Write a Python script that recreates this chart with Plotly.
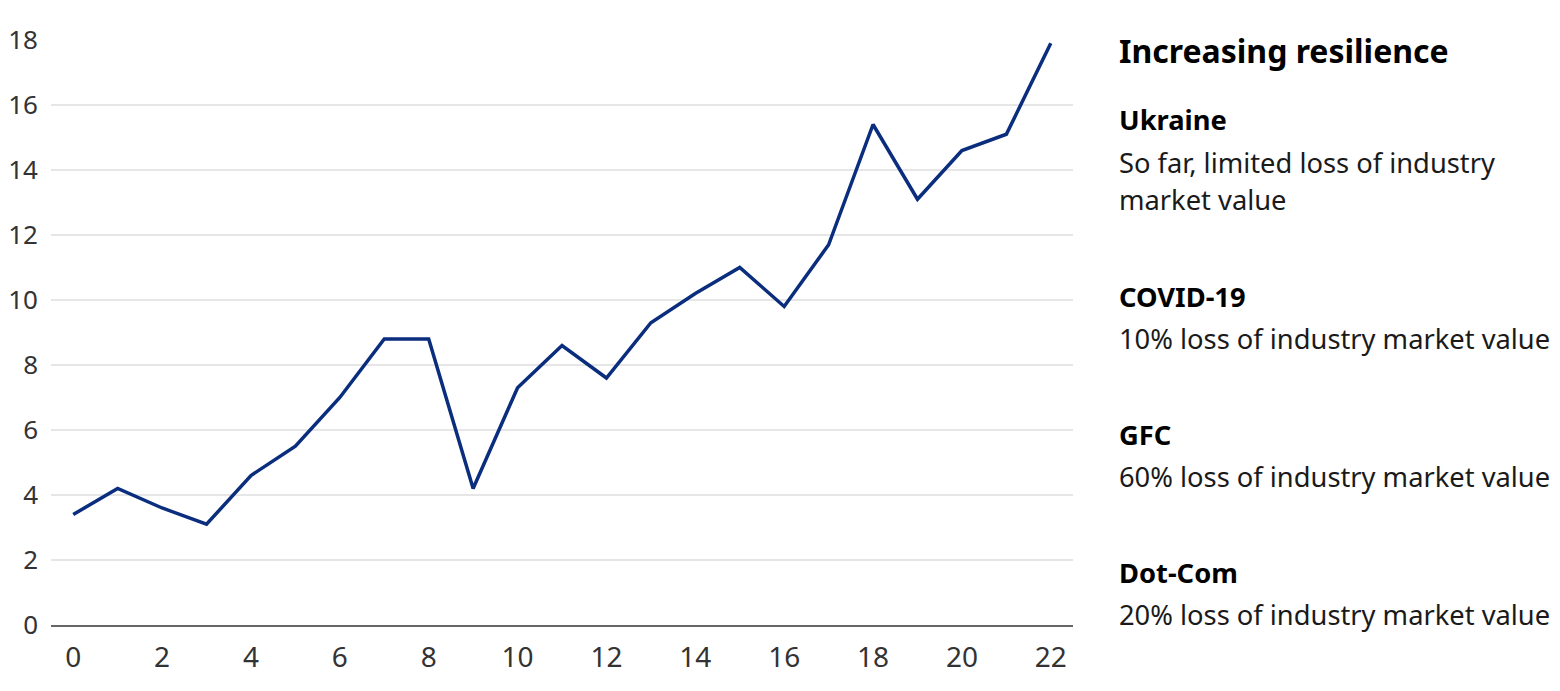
import plotly.graph_objects as go

x_vals = list(range(23))
y_vals = [3.4, 4.2, 3.6, 3.1, 4.6, 5.5, 7.0, 8.8, 8.8, 4.2, 7.3, 8.6, 7.6, 9.3, 10.2, 11.0, 9.8, 11.7, 15.4, 13.1, 14.6, 15.1, 17.9]
x_ticks = list(range(0, 23, 2))
y_ticks = list(range(0, 19, 2))

title_text = "Increasing resilience"
events = [
    ("Ukraine", ["So far, limited loss of industry", "market value"]),
    ("COVID-19", ["10% loss of industry market value"]),
    ("GFC", ["60% loss of industry market value"]),
    ("Dot-Com", ["20% loss of industry market value"]),
]

FONT = "Noto Sans"
OFF = 8  # page body margin
W, H = 1560 - 2 * OFF, 691 - 2 * OFF
ML = 51 - OFF
MT = 40 - OFF
MB = H - (625 - OFF)
MR = W - (1073 - OFF)
plot_h = H - MT - MB
plot_w = W - ML - MR

fig = go.Figure()
fig.add_trace(go.Scatter(x=x_vals, y=y_vals, mode="lines",
                         line=dict(color="#0a2d7e", width=3.5), hoverinfo="x+y"))

def py(ypix):
    return (H - MB - (ypix - OFF)) / plot_h

xp = (1117 - OFF - ML) / plot_w

ann = [dict(text="<b>" + title_text + "</b>", x=xp, y=py(50), xref="paper", yref="paper",
            xanchor="left", yanchor="middle", showarrow=False,
            font=dict(family=FONT, size=32, color="#000"))]
head_y = [120, 296, 434, 572]
for (name, lines), hy in zip(events, head_y):
    ann.append(dict(text="<b>" + name + "</b>", x=xp, y=py(hy), xref="paper", yref="paper",
                    xanchor="left", yanchor="middle", showarrow=False,
                    font=dict(family=FONT, size=27.3, color="#000")))
    for i, ln in enumerate(lines):
        ann.append(dict(text=ln, x=xp, y=py(hy + 42 + 37 * i), xref="paper", yref="paper",
                        xanchor="left", yanchor="middle", showarrow=False,
                        font=dict(family=FONT, size=27.3, color="#1a1a1a")))

fig.update_layout(
    width=W, height=H,
    margin=dict(l=ML, r=MR, t=MT, b=MB, pad=0),
    paper_bgcolor="white", plot_bgcolor="white",
    showlegend=False,
    font=dict(family=FONT, size=28, color="#333"),
    annotations=ann,
    xaxis=dict(range=[-0.5, 22.5], tickvals=x_ticks, showgrid=False, zeroline=False,
               showline=True, linecolor="#666", linewidth=2, ticks="",
               ticklabelstandoff=6, automargin=False,
               tickfont=dict(family=FONT, size=28, color="#333")),
    yaxis=dict(range=[0, 18], tickvals=y_ticks, showgrid=True, gridcolor="#e6e6e6",
               gridwidth=2, zeroline=False, showline=False, ticks="",
               ticklabelstandoff=12, automargin=False,
               tickfont=dict(family=FONT, size=26, color="#333")),
)

fig.write_html("out.html")
